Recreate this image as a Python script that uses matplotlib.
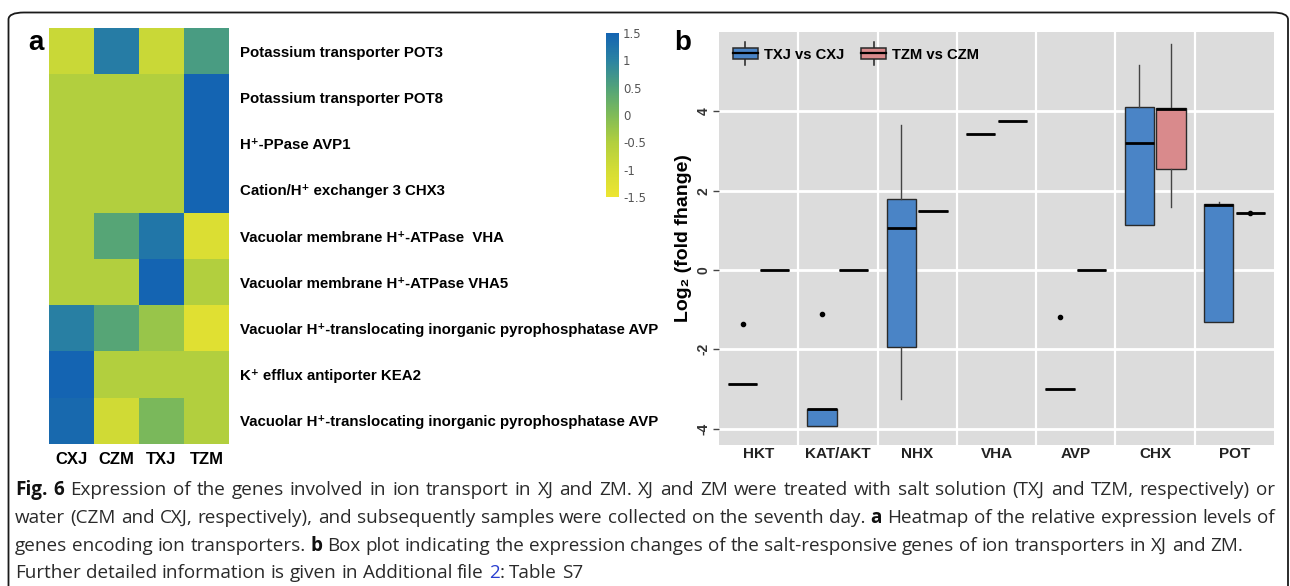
import numpy as np
import matplotlib
matplotlib.use('Agg')
import matplotlib.pyplot as plt
from matplotlib.colors import LinearSegmentedColormap
from matplotlib.patches import FancyBboxPatch, Rectangle
from matplotlib.lines import Line2D
from matplotlib.legend_handler import HandlerBase

# ------------------------------------------------------------------ data
samples = ['CXJ', 'CZM', 'TXJ', 'TZM']
gene_labels = [
    'Potassium transporter POT3',
    'Potassium transporter POT8',
    'H\u207A-PPase AVP1',
    'Cation/H\u207A exchanger 3 CHX3',
    'Vacuolar membrane H\u207A-ATPase  VHA',
    'Vacuolar membrane H\u207A-ATPase VHA5',
    'Vacuolar H\u207A-translocating inorganic pyrophosphatase AVP',
    'K\u207A efflux antiporter KEA2',
    'Vacuolar H\u207A-translocating inorganic pyrophosphatase AVP',
]
z_pot3 = [-0.85, 1.10, -0.85, 0.60]
z_pot8 = [-0.5, -0.5, -0.5, 1.5]
z_avp1 = [-0.5, -0.5, -0.5, 1.5]
z_chx3 = [-0.5, -0.5, -0.5, 1.5]
z_vha = [-0.5, 0.45, 1.2, -1.15]
z_vha5 = [-0.5, -0.5, 1.5, -0.5]
z_avp_a = [1.05, 0.45, -0.25, -1.25]
z_kea2 = [1.5, -0.5, -0.5, -0.5]
z_avp_b = [1.4, -0.95, 0.05, -0.5]
cbar_ticks = [1.5, 1, 0.5, 0, -0.5, -1, -1.5]
cbar_ticklabels = ['1.5', '1', '0.5', '0', '-0.5', '-1', '-1.5']

families = ['HKT', 'KAT/AKT', 'NHX', 'VHA', 'AVP', 'CHX', 'POT']
series_names = ['TXJ vs CXJ', 'TZM vs CZM']
# TXJ vs CXJ
txj_q1 = [-2.86, -3.92, -1.94, 3.42, -3.01, 1.13, -1.31]
txj_med = [-2.86, -3.49, 1.05, 3.42, -3.01, 3.20, 1.64]
txj_q3 = [-2.86, -3.49, 1.79, 3.42, -3.01, 4.11, 1.66]
txj_lo = [-2.86, -3.92, -3.24, 3.42, -3.01, 1.13, -1.31]
txj_hi = [-2.86, -3.49, 3.66, 3.42, -3.01, 5.17, 1.71]
txj_out = [[-1.35], [-1.11], [], [], [-1.18], [], []]
# TZM vs CZM
tzm_q1 = [0.0, 0.0, 1.50, 3.76, 0.0, 2.55, 1.44]
tzm_med = [0.0, 0.0, 1.50, 3.76, 0.0, 4.07, 1.44]
tzm_q3 = [0.0, 0.0, 1.50, 3.76, 0.0, 4.09, 1.44]
tzm_lo = [0.0, 0.0, 1.50, 3.76, 0.0, 1.60, 1.44]
tzm_hi = [0.0, 0.0, 1.50, 3.76, 0.0, 5.70, 1.44]
tzm_out = [[], [], [], [], [], [], [1.44]]
y_ticks = [-4, -2, 0, 2, 4]

# ------------------------------------------------------------------ setup
W, H = 1290, 586
fig = plt.figure(figsize=(W / 100, H / 100), dpi=100)
fig.patch.set_facecolor('white')

ARIAL = ['Liberation Sans', 'DejaVu Sans']
CAP = ['Open Sans', 'DejaVu Sans']


def px(x0, y0, x1, y1):
    return [x0 / W, 1 - y1 / H, (x1 - x0) / W, (y1 - y0) / H]


# outer rounded frame
frame = FancyBboxPatch((8.5 / W, -20 / H), (1288 - 8.5) / W, (H - 12.5 + 20) / H,
                       boxstyle='round,pad=0,rounding_size=0.012',
                       transform=fig.transFigure, facecolor='none',
                       edgecolor='#1a1a1a', linewidth=1.3, zorder=0)
fig.patches.append(frame)

# ------------------------------------------------------------------ heatmap (a)
cmap = LinearSegmentedColormap.from_list('hm', [
    (0.0, '#EDE531'), (1 / 6, '#D3DC35'), (2 / 6, '#B2CF3E'),
    (3 / 6, '#7FBB58'), (4 / 6, '#52A37A'), (5 / 6, '#2B83A2'), (1.0, '#1464B2')])
Z = np.array([z_pot3, z_pot8, z_avp1, z_chx3, z_vha, z_vha5, z_avp_a, z_kea2, z_avp_b])
axh = fig.add_axes(px(49, 28, 229, 444))
im = axh.imshow(Z, cmap=cmap, vmin=-1.5, vmax=1.5, aspect='auto', interpolation='nearest')
for s in axh.spines.values():
    s.set_visible(False)
axh.set_xticks(range(len(samples)))
axh.set_xticklabels(samples, fontsize=12, fontweight='bold', family=ARIAL)
axh.set_yticks(range(len(gene_labels)))
axh.set_yticklabels(gene_labels, fontsize=10.8, fontweight='bold', family=ARIAL)
axh.yaxis.tick_right()
axh.tick_params(axis='both', length=0)
axh.tick_params(axis='y', pad=8)
axh.tick_params(axis='x', pad=6)

cax = fig.add_axes(px(606, 33, 619, 197))
cb = fig.colorbar(im, cax=cax, ticks=cbar_ticks)
cb.set_ticklabels(cbar_ticklabels)
cb.outline.set_visible(False)
cax.tick_params(length=0, labelsize=8.5, pad=3, labelcolor='#555')

fig.text(36 / W, 1 - 43 / H, 'a', fontsize=20, fontweight='bold', family=ARIAL,
         ha='center', va='center')

# ------------------------------------------------------------------ box plot (b)
BLUE = '#4A84C6'
PINK = '#D98A8C'
axb = fig.add_axes(px(719, 32, 1274, 445))
axb.set_facecolor('#DCDCDC')
axb.set_xlim(-0.5, len(families) - 0.5)
axb.set_ylim(-4.41, 6.0)
axb.set_axisbelow(True)
for s in axb.spines.values():
    s.set_visible(False)
axb.set_yticks(y_ticks)
axb.set_yticklabels([str(v) for v in y_ticks], rotation=90, va='center',
                    fontsize=10, fontweight='bold', family=ARIAL, color='#333')
axb.set_xticks(range(len(families)))
axb.set_xticks(np.arange(len(families) - 1) + 0.5, minor=True)
axb.set_xticklabels(families, fontsize=11, fontweight='bold', family=ARIAL, color='#222')
axb.tick_params(axis='x', which='both', length=0, pad=1.5)
axb.tick_params(axis='y', length=4, width=1, color='#444', pad=2)
axb.grid(axis='y', which='major', color='white', linewidth=2)
axb.grid(axis='x', which='minor', color='white', linewidth=1.6)
axb.grid(axis='x', which='major', visible=False)


def make_stats(q1, med, q3, lo, hi, out):
    return [dict(q1=a, med=b, q3=c, whislo=d, whishi=e, fliers=f)
            for a, b, c, d, e, f in zip(q1, med, q3, lo, hi, out)]


pos = np.arange(len(families))
common = dict(widths=0.37, patch_artist=True, showcaps=False, manage_ticks=False,
              medianprops=dict(color='black', linewidth=2),
              whiskerprops=dict(color='#444', linewidth=1),
              flierprops=dict(marker='o', markersize=3, markerfacecolor='black',
                              markeredgecolor='black', linestyle='none'))
axb.bxp(make_stats(txj_q1, txj_med, txj_q3, txj_lo, txj_hi, txj_out), positions=pos - 0.2,
        boxprops=dict(facecolor=BLUE, edgecolor='#2a2a2a', linewidth=1), **common)
axb.bxp(make_stats(tzm_q1, tzm_med, tzm_q3, tzm_lo, tzm_hi, tzm_out), positions=pos + 0.2,
        boxprops=dict(facecolor=PINK, edgecolor='#2a2a2a', linewidth=1), **common)

axb.set_ylabel('Log\u2082 (fold fhange)', fontsize=14, fontweight='bold', family=ARIAL,
               labelpad=3)


class BoxKey(HandlerBase):
    def __init__(self, color):
        super().__init__()
        self.color = color

    def create_artists(self, legend, orig_handle, xdescent, ydescent, width, height,
                       fontsize, trans):
        x0, y0 = -xdescent, -ydescent
        cx = x0 + width / 2
        wh = Line2D([cx, cx], [y0 - height * 0.6, y0 + height * 1.6], color='#222',
                    linewidth=1.1, transform=trans)
        r = Rectangle((x0, y0), width, height, facecolor=self.color,
                      edgecolor='#2a2a2a', linewidth=1.1, transform=trans)
        md = Line2D([x0, x0 + width], [y0 + height * 0.5] * 2, color='black',
                    linewidth=1.6, transform=trans)
        return [wh, r, md]


h1 = Rectangle((0, 0), 1, 1)
h2 = Rectangle((0, 0), 1, 1)
leg = axb.legend([h1, h2], series_names, handler_map={h1: BoxKey(BLUE), h2: BoxKey(PINK)},
                 loc='upper left', bbox_to_anchor=(-0.002, 0.998), ncol=2, frameon=False,
                 borderpad=0.5, handlelength=1.75, handleheight=0.75, handletextpad=0.4,
                 columnspacing=1.1, prop=dict(family=ARIAL, weight='bold', size=10.6))

fig.text(683 / W, 1 - 43 / H, 'b', fontsize=20, fontweight='bold', family=ARIAL,
         ha='center', va='center')

# ------------------------------------------------------------------ caption
cap_lines = [
    ([('Fig. 6', 'bold'), (' Expression of the genes involved in ion transport in XJ and ZM. XJ and ZM '
                           'were treated with salt solution (TXJ and TZM, respectively) or', 'reg')], True),
    ([('water (CZM and CXJ, respectively), and subsequently samples were collected on the seventh day. ', 'reg'),
      ('a', 'bold'), (' Heatmap of the relative expression levels of', 'reg')], True),
    ([('genes encoding ion transporters. ', 'reg'), ('b', 'bold'),
      (' Box plot indicating the expression changes of the salt-responsive genes of ion '
       'transporters in XJ and ZM.', 'reg')], False),
    ([('Further detailed information is given in Additional file ', 'reg'), ('2', 'link'),
      (': Table S7', 'reg')], False),
]
cap_base = [495, 523, 551, 578]
cap_x0, cap_x1 = 15, 1275
styles = {'reg': dict(color='#2a2a2a', fontweight='normal'),
          'bold': dict(color='#111', fontweight='bold'),
          'link': dict(color='#2a3fd0', fontweight='normal')}


def words_of(segments):
    words, new_word = [], True
    for text, st in segments:
        parts = text.split(' ')
        for j, p in enumerate(parts):
            if j > 0:
                new_word = True
            if p == '':
                continue
            if new_word or not words:
                words.append([(p, st)])
            else:
                words[-1].append((p, st))
            new_word = False
    return words


renderer = fig.canvas.get_renderer()


def measure(s, st, size):
    t = fig.text(0, 0, s, fontsize=size, family=CAP, **styles[st])
    w = t.get_window_extent(renderer).width
    t.remove()
    return w


# choose a size so that line 1 with normal spaces fills the text width
s0 = 12.0
words1 = words_of(cap_lines[0][0])
sp0 = measure('x x', 'reg', s0) - measure('xx', 'reg', s0)
w1 = sum(measure(p, st, s0) for wd in words1 for p, st in wd) + sp0 * (len(words1) - 1)
CAP_SIZE = min(s0 * (cap_x1 - cap_x0) / w1, 13.6)

space_w = measure('x x', 'reg', CAP_SIZE) - measure('xx', 'reg', CAP_SIZE)
for (segs, justify), yb in zip(cap_lines, cap_base):
    words = words_of(segs)
    widths = [[measure(p, st, CAP_SIZE) for p, st in wd] for wd in words]
    tot = sum(sum(w) for w in widths)
    gap = (cap_x1 - cap_x0 - tot) / (len(words) - 1) if justify else space_w
    x = cap_x0
    for wd, ws in zip(words, widths):
        for (p, st), w in zip(wd, ws):
            fig.text(x / W, 1 - yb / H, p, fontsize=CAP_SIZE, family=CAP, va='baseline',
                     ha='left', **styles[st])
            x += w
        x += gap

fig.savefig('out.png', dpi=100)
